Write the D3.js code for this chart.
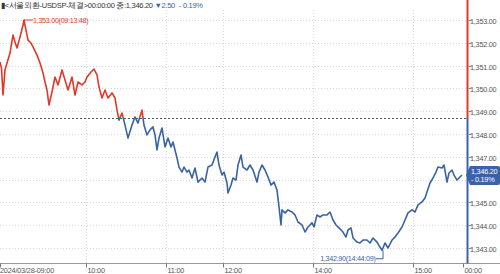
<!DOCTYPE html>
<html><head><meta charset="utf-8">
<script src="https://cdn.jsdelivr.net/npm/d3@7"></script>
<style>
html,body{margin:0;padding:0;background:#fff;}
svg{display:block;font-family:"Liberation Sans",Arial,sans-serif;}
</style></head>
<body><svg id="c" width="500" height="274"></svg>
<script>
// ---- data ----
const seqs = [0,3,6,10,14,20,26,30,34,40,46,48,52,56,62,66,74,80,86,90,94,98,104,110,116,124,130,136,144,150,156,164,170,174,182,188,194,198,204,210,216,224,230,234,238,244,250,256,264,270,276,284,288,294,300,306,310,314,318,324,330,336,342,346,354,358,364,368,374,378,384,390,396,404,410,416,424,430,434,438,444,448,454,456,462,466,472,476,482,486,494,500,506,514,518,524,530,536,542,548,554,558,562,564,570,576,584,590,596,604,610,616,624,628,634,640,646,654,660,666,672,678,686,692,696,702,706,714,720,726,734,740,746,754,760,764,770,776,784,790,796,804,810,816,824,830,836,844,850,854,860,866,872,876,884,888,894,898,904,908,914,918,924];
const prices = [1351.16,1350.89,1349.71,1350.81,1351.11,1351.55,1352.34,1352.04,1351.77,1352.25,1352.78,1353.00,1352.56,1352.12,1351.99,1351.82,1351.46,1351.11,1350.68,1350.28,1349.93,1349.27,1349.84,1350.50,1350.15,1350.81,1350.37,1349.93,1350.50,1349.71,1350.28,1350.15,1350.28,1350.50,1350.72,1350.85,1350.59,1350.06,1349.58,1349.93,1349.58,1349.80,1349.58,1349.05,1348.61,1348.92,1348.39,1347.82,1348.39,1348.75,1348.48,1349.05,1348.39,1347.96,1348.18,1348.31,1347.96,1347.30,1347.82,1348.26,1347.43,1347.82,1347.43,1347.65,1346.95,1346.55,1346.33,1346.55,1346.33,1346.42,1346.07,1346.51,1345.89,1346.07,1345.89,1346.55,1346.64,1346.99,1347.21,1346.64,1346.20,1346.33,1345.85,1345.41,1345.76,1346.07,1345.98,1346.64,1347.08,1346.55,1346.42,1346.64,1346.42,1345.89,1346.33,1346.64,1346.42,1346.11,1345.76,1345.89,1345.54,1344.80,1344.01,1344.67,1344.54,1344.67,1344.58,1344.45,1344.14,1344.01,1343.70,1343.92,1344.10,1343.92,1344.45,1344.36,1344.45,1344.45,1344.58,1344.23,1344.01,1343.88,1343.70,1343.48,1343.79,1343.88,1343.44,1343.26,1343.22,1343.35,1343.35,1343.22,1343.44,1343.26,1343.04,1342.90,1343.22,1343.00,1343.35,1343.48,1343.66,1343.92,1344.23,1344.54,1344.67,1344.58,1344.89,1345.02,1345.19,1345.46,1345.85,1346.07,1346.33,1346.55,1346.51,1346.64,1345.89,1346.29,1346.42,1346.20,1345.98,1346.07,1346.20];
const xTickSeqs = [0,172,332,446,626,826,926];
const xTickLabels = ["2024/03/28-09:00","10:00","11:00","12:00","14:00","15:00","00:00"];
const yTicks = [1343,1344,1345,1346,1347,1348,1349,1350,1351,1352,1353];
const prevClose = 1348.70;
const lastPrice = 1346.20;
const change = -2.50;
const changePct = -0.19;
const maxLabel = "1,353.00(09:13:48)";
const minLabel = "1,342.90(14:44:09)";
const title = "▮<서울외환-USDSP-체결>00:00:00 종:1,346.20";

// ---- drawing ----
const RED = "#e2382c", BLUE = "#3a62a6", GRID = "#d8d8d8", TXT = "#555";
const svg = d3.select("#c");
const x = d3.scaleLinear().domain([0, 926]).range([0, 463]);
const y = d3.scaleLinear().domain([1343, 1353]).range([248, 20]);
const axisX = 467.5, bottomY = 263.5, topY = 10;
const fmt = d3.format(",.2f");
const cy = y(lastPrice);

// horizontal grid
svg.append("g").selectAll("line").data(yTicks).join("line")
  .attr("x1", 0).attr("x2", axisX - 1)
  .attr("y1", d => Math.round(y(d)) + 0.5).attr("y2", d => Math.round(y(d)) + 0.5)
  .attr("stroke", GRID).attr("stroke-dasharray", "1,2");
// vertical grid
svg.append("g").selectAll("line").data(xTickSeqs.slice(1, -1)).join("line")
  .attr("x1", d => Math.round(x(d)) + 0.5).attr("x2", d => Math.round(x(d)) + 0.5)
  .attr("y1", topY).attr("y2", bottomY)
  .attr("stroke", GRID).attr("stroke-dasharray", "1,2");

// baseline (previous close)
const by = Math.round(y(prevClose)) + 0.5;
svg.append("line").attr("x1", 0).attr("x2", axisX - 1).attr("y1", by).attr("y2", by)
  .attr("stroke", "#555").attr("stroke-dasharray", "2,2");

// price line split by colour
const pts = seqs.map((s, i) => [s, prices[i]]);
const line = d3.line().x(d => x(d[0])).y(d => y(d[1]));
const defs = svg.append("defs");
defs.append("clipPath").attr("id", "above").append("rect")
  .attr("x", 0).attr("y", 0).attr("width", 500).attr("height", y(prevClose));
defs.append("clipPath").attr("id", "below").append("rect")
  .attr("x", 0).attr("y", y(prevClose)).attr("width", 500).attr("height", 274);
svg.append("path").datum(pts).attr("d", line).attr("fill", "none")
  .attr("stroke", RED).attr("stroke-width", 1.6).attr("stroke-linejoin", "round").attr("clip-path", "url(#above)");
svg.append("path").datum(pts).attr("d", line).attr("fill", "none")
  .attr("stroke", BLUE).attr("stroke-width", 1.6).attr("stroke-linejoin", "round").attr("clip-path", "url(#below)");

// bottom axis
svg.append("line").attr("x1", 0).attr("x2", 500).attr("y1", bottomY).attr("y2", bottomY)
  .attr("stroke", "#999").attr("stroke-width", 1);
const xt = svg.append("g").selectAll("g").data(xTickSeqs.map((s, i) => [s, xTickLabels[i]])).join("g")
  .attr("transform", d => `translate(${Math.round(x(d[0])) + 0.5},0)`);
xt.append("line").attr("y1", bottomY).attr("y2", bottomY + 4).attr("stroke", "#777");
xt.append("text").attr("x", d => d[0] === 0 ? -0.5 : 1).attr("y", 272.5)
  .attr("font-size", 7.3).attr("fill", TXT).attr("letter-spacing", -0.2).text(d => d[1]);

// right axis line, coloured by side of prev close
svg.append("line").attr("x1", axisX).attr("x2", axisX).attr("y1", 0).attr("y2", y(prevClose))
  .attr("stroke", RED).attr("stroke-width", 2);
svg.append("line").attr("x1", axisX).attr("x2", axisX).attr("y1", y(prevClose)).attr("y2", bottomY)
  .attr("stroke", BLUE).attr("stroke-width", 2);
const yt = svg.append("g").selectAll("g").data(yTicks).join("g")
  .attr("transform", d => `translate(0,${Math.round(y(d)) + 0.5})`);
yt.append("line").attr("x1", axisX + 1).attr("x2", axisX + 4).attr("stroke", "#888");
yt.filter(d => Math.abs(y(d) - cy) > 11)
  .append("text").attr("x", 470).attr("y", 3).attr("font-size", 7.3).attr("fill", TXT)
  .attr("letter-spacing", -0.25).text(d => fmt(d));

// header
const hdr = svg.append("text").attr("x", 1).attr("y", 8).attr("font-size", 7.5).attr("fill", "#333")
  .attr("letter-spacing", -0.3);
hdr.append("tspan").text(title + " ");
hdr.append("tspan").attr("fill", BLUE).text("▼" + d3.format(".2f")(Math.abs(change)));
hdr.append("tspan").attr("fill", BLUE).attr("dx", 4).text("- " + d3.format(".2f")(Math.abs(changePct)) + "%");

// max annotation
const iMax = d3.maxIndex(prices), iMin = d3.minIndex(prices);
const mx = x(seqs[iMax]), my = y(prices[iMax]);
svg.append("path").attr("d", `M${mx},${my + 6}V${my}H${mx + 9}`).attr("fill", "none").attr("stroke", RED);
svg.append("text").attr("x", mx + 9).attr("y", my + 2.5).attr("font-size", 7.2).attr("fill", RED)
  .attr("letter-spacing", -0.3).text(maxLabel);
// min annotation
const nx = x(seqs[iMin]) + 1, ny = y(prices[iMin]);
svg.append("path").attr("d", `M${nx},${ny}V${ny + 8.5}H${nx - 7}`).attr("fill", "none").attr("stroke", BLUE);
svg.append("text").attr("x", nx - 7.5).attr("y", ny + 11).attr("text-anchor", "end").attr("font-size", 7.2)
  .attr("fill", BLUE).attr("letter-spacing", -0.3).text(minLabel);

// current price badge
svg.append("path")
  .attr("d", `M466,${cy}L470,${cy - 9}H498Q500,${cy - 9} 500,${cy - 7}V${cy + 8}Q500,${cy + 10} 498,${cy + 10}H470Z`)
  .attr("fill", BLUE);
svg.append("text").attr("x", 471).attr("y", cy - 1.5).attr("font-size", 7.3).attr("fill", "#fff")
  .attr("letter-spacing", -0.25).text(fmt(lastPrice));
svg.append("text").attr("x", 471).attr("y", cy + 7).attr("font-size", 7.3).attr("fill", "#fff")
  .attr("letter-spacing", -0.25).text("- " + d3.format(".2f")(Math.abs(changePct)) + "%");
</script></body></html>
